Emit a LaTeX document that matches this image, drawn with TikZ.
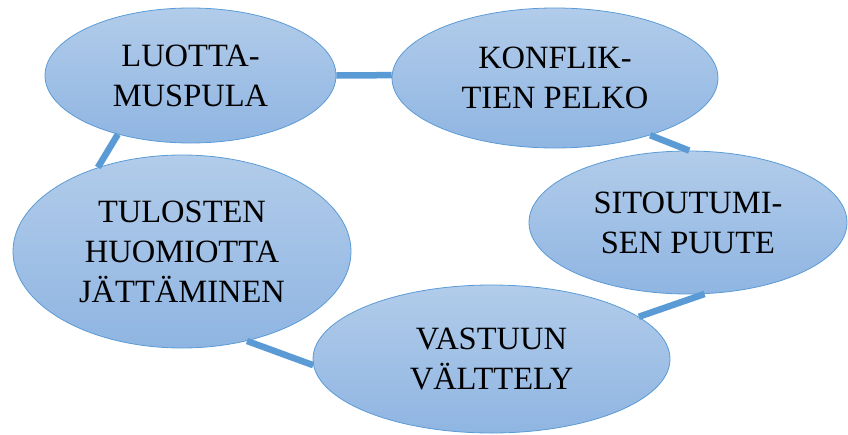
\documentclass[tikz,border=0pt]{standalone}
\usepackage{fontspec}
\setmainfont{Liberation Serif}
\usetikzlibrary{shapes.geometric}
\definecolor{edgeblue}{HTML}{5B9BD5}
\definecolor{topfill}{HTML}{B2CCEA}
\definecolor{botfill}{HTML}{8FB5E2}
\tikzset{
  bubble/.style={ellipse, draw=edgeblue, line width=0.8pt, top color=topfill, bottom color=botfill,
    inner sep=0pt, align=center, font=\fontsize{32.5}{40}\selectfont},
  link/.style={draw=edgeblue, line width=6.5pt, line cap=butt}
}
\begin{document}
\begin{tikzpicture}[x=1pt,y=-1pt]
\useasboundingbox (0,0) rectangle (848,434);
\node[bubble, minimum width=291pt, minimum height=135pt] (a) at (190.5,75.5) {LUOTTA-\\MUSPULA};
\node[bubble, minimum width=326pt, minimum height=140pt] (b) at (555,78) {KONFLIK-\\TIEN PELKO};
\node[bubble, minimum width=318pt, minimum height=143pt] (c) at (688,222.5) {SITOUTUMI-\\SEN PUUTE};
\node[bubble, minimum width=357pt, minimum height=148pt] (d) at (491.5,359) {VASTUUN\\VÄLTTELY};
\node[bubble, minimum width=338pt, minimum height=193pt] (e) at (182,251.5) {TULOSTEN\\HUOMIOTTA\\JÄTTÄMINEN};
\draw[link] (a.0) -- (b.179);
\draw[link] (b.329) -- (c.89);
\draw[link] (c.283) -- (d.16);
\draw[link] (d.182) -- (e.306);
\draw[link] (e.135) -- (a.219);
\end{tikzpicture}
\end{document}
